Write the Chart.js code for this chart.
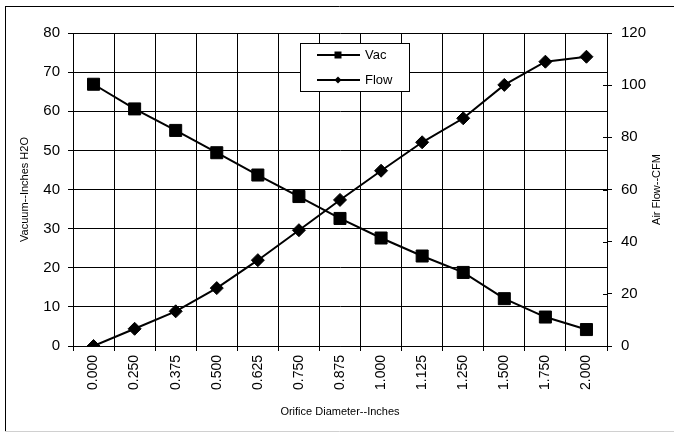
<!DOCTYPE html>
<html>
<head>
<meta charset="utf-8">
<script src="https://cdn.jsdelivr.net/npm/chart.js@4/dist/chart.umd.min.js"></script>
<style>
html,body{margin:0;padding:0;background:#fff;}
#wrap{width:674px;height:432px;position:relative;}
</style>
</head>
<body>
<div id="wrap"><canvas id="c" width="674" height="432"></canvas></div>
<script>
const categories = ['0.000','0.250','0.375','0.500','0.625','0.750','0.875','1.000','1.125','1.250','1.500','1.750','2.000'];
const vacValues = [66.9, 60.6, 55.1, 49.4, 43.7, 38.2, 32.6, 27.6, 23.0, 18.8, 12.1, 7.4, 4.2];
const flowValues = [0, 6.6, 13.3, 22.2, 32.9, 44.4, 56.0, 67.2, 78.1, 87.3, 100.1, 109.0, 110.9];
const leftTicks = [0, 10, 20, 30, 40, 50, 60, 70, 80];
const rightTicks = [0, 20, 40, 60, 80, 100, 120];

const FONT = "'Liberation Sans', Arial, sans-serif";

const decorPlugin = {
  id: 'decor',
  beforeDraw(chart) {
    const ctx = chart.ctx;
    ctx.save();
    ctx.fillStyle = '#fff';
    ctx.fillRect(0, 0, chart.width, chart.height);
    ctx.strokeStyle = '#000';
    ctx.lineWidth = 1;
    ctx.beginPath();
    ctx.moveTo(5, 6.5); ctx.lineTo(674, 6.5);
    ctx.moveTo(5.5, 6); ctx.lineTo(5.5, 431);
    ctx.stroke();
    ctx.strokeStyle = '#d0d0d0';
    ctx.beginPath();
    ctx.moveTo(5, 431.5); ctx.lineTo(674, 431.5);
    ctx.stroke();
    ctx.restore();
  },
  afterDraw(chart) {
    const ctx = chart.ctx;
    const area = chart.chartArea;
    ctx.save();
    // right axis tick marks crossing into the plot
    const s1 = chart.scales.y1;
    ctx.strokeStyle = '#000';
    ctx.lineWidth = 1;
    ctx.beginPath();
    rightTicks.forEach(v => {
      const py = Math.round(s1.getPixelForValue(v)) + 0.5;
      ctx.moveTo(area.right - 4, py); ctx.lineTo(area.right, py);
    });
    ctx.stroke();
    // right axis title, reading bottom to top
    ctx.fillStyle = '#000';
    ctx.font = '11px ' + FONT;
    ctx.textAlign = 'center';
    ctx.textBaseline = 'middle';
    ctx.translate(657, (area.top + area.bottom) / 2);
    ctx.rotate(-Math.PI / 2);
    ctx.fillText('Air Flow--CFM', 0, 0);
    ctx.restore();

    // legend
    ctx.save();
    const bx = 300.5, by = 43.5, bw = 109, bh = 48;
    ctx.fillStyle = '#fff';
    ctx.fillRect(bx, by, bw, bh);
    ctx.strokeStyle = '#000';
    ctx.lineWidth = 1;
    ctx.strokeRect(bx, by, bw, bh);
    const rows = [55, 80];
    chart.data.datasets.forEach((ds, i) => {
      const y = rows[i];
      ctx.strokeStyle = '#000';
      ctx.lineWidth = 2;
      ctx.beginPath();
      ctx.moveTo(317, y); ctx.lineTo(360, y);
      ctx.stroke();
      ctx.fillStyle = '#000';
      ctx.beginPath();
      if (ds.pointStyle === 'rect') {
        ctx.rect(338 - 3.5, y - 3.5, 7, 7);
      } else {
        ctx.moveTo(338, y - 3.5); ctx.lineTo(341.5, y); ctx.lineTo(338, y + 3.5); ctx.lineTo(334.5, y);
        ctx.closePath();
      }
      ctx.fill();
      ctx.font = '13px ' + FONT;
      ctx.textAlign = 'left';
      ctx.textBaseline = 'middle';
      ctx.fillText(ds.label, 365, y);
    });
    ctx.restore();
  }
};

new Chart(document.getElementById('c'), {
  type: 'line',
  data: {
    labels: categories,
    datasets: [
      {
        label: 'Vac',
        data: vacValues,
        yAxisID: 'y',
        borderColor: '#000',
        backgroundColor: '#000',
        borderWidth: 2,
        pointStyle: 'rect',
        pointRadius: 8.5,
        pointBorderWidth: 1,
        tension: 0,
        fill: false
      },
      {
        label: 'Flow',
        data: flowValues,
        yAxisID: 'y1',
        borderColor: '#000',
        backgroundColor: '#000',
        borderWidth: 2,
        pointStyle: 'rectRot',
        pointRadius: 6.5,
        pointBorderWidth: 1,
        tension: 0,
        fill: false
      }
    ]
  },
  options: {
    responsive: false,
    animation: false,
    devicePixelRatio: 1,
    layout: { padding: { left: 5, right: 5, top: 33, bottom: 5 } },
    plugins: {
      legend: { display: false },
      tooltip: { enabled: false }
    },
    scales: {
      x: {
        type: 'category',
        offset: true,
        grid: { offset: true, color: '#000', lineWidth: 1, tickLength: 5, drawTicks: true },
        border: { color: '#000', width: 1 },
        ticks: { minRotation: 90, maxRotation: 90, autoSkip: false, color: '#000', padding: 4, font: { family: FONT, size: 14 } },
        title: { display: true, text: 'Orifice Diameter--Inches', color: '#000', font: { family: FONT, size: 11 }, padding: { top: 0, bottom: 8 } },
        afterFit(s) { s.height = 81; }
      },
      y: {
        position: 'left',
        min: 0, max: 80,
        afterBuildTicks(s) { s.ticks = leftTicks.map(v => ({ value: v })); },
        grid: { color: '#000', lineWidth: 1, tickLength: 5 },
        border: { color: '#000', width: 1 },
        ticks: { color: '#000', padding: 8, font: { family: FONT, size: 15 } },
        title: { display: true, text: 'Vacuum--Inches H2O', color: '#000', font: { family: FONT, size: 11 }, padding: { top: 13, bottom: 0 } },
        afterFit(s) { s.width = 68; }
      },
      y1: {
        position: 'right',
        min: 0, max: 120,
        afterBuildTicks(s) { s.ticks = rightTicks.map(v => ({ value: v })); },
        grid: { drawOnChartArea: false, color: '#000', lineWidth: 1, tickLength: 5 },
        border: { color: '#000', width: 1 },
        ticks: { color: '#000', padding: 9, font: { family: FONT, size: 15 } },
        afterFit(s) { s.width = 62; }
      }
    }
  },
  plugins: [decorPlugin]
});
</script>
</body>
</html>
